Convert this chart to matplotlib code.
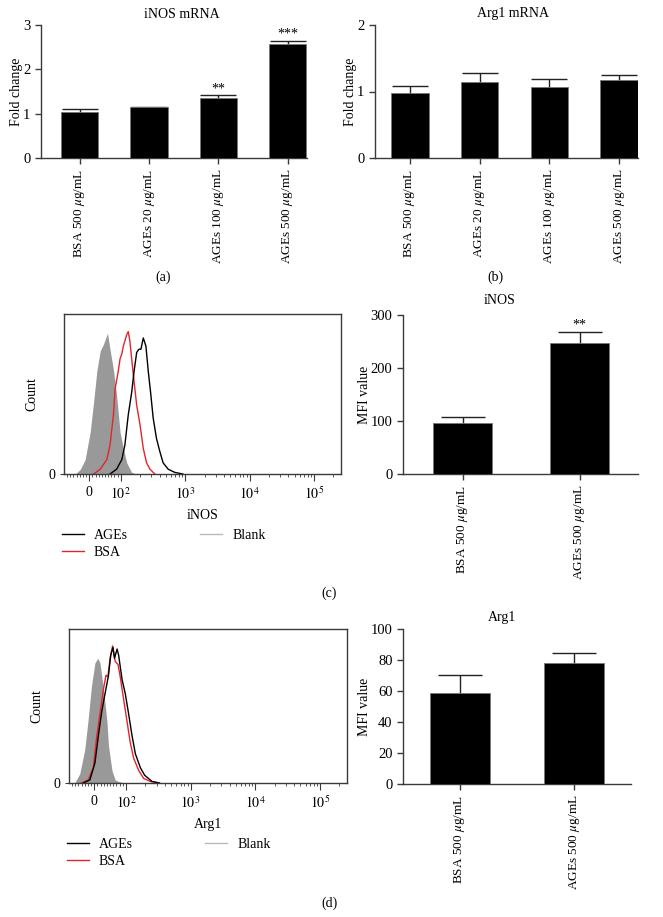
import numpy as np
import matplotlib
matplotlib.use('Agg')
import matplotlib.pyplot as plt
from matplotlib.lines import Line2D

plt.rcParams['font.family'] = ['Liberation Serif', 'DejaVu Serif']
plt.rcParams['mathtext.fontset'] = 'stix'
plt.rcParams['font.size'] = 9.5

W, H = 663, 917

# ---- data ----
mrna_groups = ['BSA 500 $\\mu$g/mL', 'AGEs 20 $\\mu$g/mL',
               'AGEs 100 $\\mu$g/mL', 'AGEs 500 $\\mu$g/mL']
inos_mrna = [1.03, 1.14, 1.35, 2.57]
inos_mrna_err = [0.07, 0.02, 0.06, 0.08]
inos_mrna_sig = ['', '', '**', '***']
arg1_mrna = [0.97, 1.15, 1.07, 1.17]
arg1_mrna_err = [0.12, 0.13, 0.12, 0.08]
arg1_mrna_sig = ['', '', '', '']

mfi_groups = ['BSA 500 $\\mu$g/mL', 'AGEs 500 $\\mu$g/mL']
inos_mfi = [96, 247]
inos_mfi_err = [12, 21]
inos_mfi_sig = ['', '**']
arg1_mfi = [58.9, 77.8]
arg1_mfi_err = [11.2, 7.0]
arg1_mfi_sig = ['', '']

# flow histograms: fluorescence intensity vs count (% of plot height)
inos_blank_x = [-44, -28, -13, 3, 14, 24, 35, 45, 58, 66, 77, 87, 98, 110, 124, 148, 170]
inos_blank_y = [0, 3, 9, 26, 45, 64, 77, 81, 88, 78, 65, 49, 26, 16, 7, 1, 0]
inos_bsa_x = [14, 35, 56, 66, 77, 82, 92, 98, 104, 110, 124, 131, 139, 148, 157, 177, 199, 224, 252, 284, 339]
inos_bsa_y = [0, 3, 9, 18, 37, 53, 64, 72, 75, 80, 87, 89, 83, 72, 62, 43, 31, 16, 7, 3, 0]
inos_ages_x = [66, 87, 104, 116, 131, 148, 161, 177, 192, 206, 224, 246, 268, 291, 319, 360, 405, 455, 545, 690, 919]
inos_ages_y = [0, 3, 9, 18, 37, 51, 64, 76, 78, 78, 85, 80, 64, 51, 35, 22, 14, 7, 3, 1, 0]

arg1_blank_x = [-62, -46, -30, -19, -9, 2, 11, 18, 29, 40, 45, 56, 66, 77, 95]
arg1_blank_y = [0, 6, 22, 42, 63, 78, 81, 78, 61, 40, 24, 8, 2, 1, 0]
arg1_bsa_x = [-41, -19, -3, 7, 18, 29, 37, 43, 50, 58, 66, 75, 82, 93, 104, 117, 132, 158, 188, 238, 319]
arg1_bsa_y = [0, 2, 10, 29, 45, 61, 70, 69, 81, 89, 79, 77, 69, 54, 40, 26, 16, 8, 3, 1, 0]
arg1_ages_x = [-35, -14, 2, 13, 24, 34, 45, 52, 59, 64, 72, 77, 88, 98, 110, 124, 140, 167, 195, 254, 331]
arg1_ages_y = [0, 2, 13, 31, 47, 58, 70, 83, 88, 81, 87, 83, 67, 58, 45, 31, 19, 10, 5, 1, 0]

hist_ticks = [0, 1e2, 1e3, 1e4, 1e5]
hist_ticklabels = ['0', '$10^2$', '$10^3$', '$10^4$', '$10^5$']

AXC = '#3a3a3a'
RED = '#e3242b'

fig = plt.figure(figsize=(W / 100, H / 100), dpi=100)


def box(l, t, r, b):
    return fig.add_axes([l / W, 1 - b / H, (r - l) / W, (b - t) / H])


def bar_panel(ax, labels, vals, errs, sig, ylim, yticks, ylabel, xlim, width, capsize):
    x = np.arange(len(vals))
    ax.bar(x, vals, width=width, color='black', edgecolor='#777777', linewidth=0.6, zorder=3)
    # error bars sit behind the bars so only the upper half shows
    ax.errorbar(x, vals, yerr=errs, fmt='none', ecolor='#222222',
                elinewidth=1, capsize=capsize, capthick=1, zorder=2)
    for xi, v, e, s in zip(x, vals, errs, sig):
        if s:
            ax.text(xi, v + e, s, ha='center', va='bottom', fontsize=10)
    for s in ['top', 'right']:
        ax.spines[s].set_visible(False)
    for s in ['left', 'bottom']:
        ax.spines[s].set_color(AXC)
        ax.spines[s].set_linewidth(1)
    ax.set_xticks(x)
    ax.set_xticklabels(labels, rotation=90)
    ax.tick_params(direction='out', length=4, color=AXC, width=1)
    ax.tick_params(axis='y', labelsize=10.5)
    ax.set_xlim(xlim)
    ax.set_ylim(ylim)
    ax.set_yticks(yticks)
    ax.set_ylabel(ylabel, labelpad=0, fontsize=10)


def hist_panel(ax, bx, by, rx, ry, kx, ky, xlabel, legend_xy):
    ax.fill_between(bx, by, color='#999999', lw=0)
    ax.plot(rx, ry, color=RED, lw=1)
    ax.plot(kx, ky, color='black', lw=1)
    ax.set_xscale('symlog', linthresh=100, linscale=0.44)
    ax.set_xlim(-80, 262144)
    ax.set_ylim(0, 100)
    ax.set_xticks(hist_ticks)
    ax.set_xticklabels(hist_ticklabels)
    minor = [v for v in range(-70, 100, 10) if v != 0]
    for d in [1e2, 1e3, 1e4, 1e5]:
        minor += [d * k for k in range(2, 10) if d * k < 262144]
    ax.set_xticks(minor, minor=True)
    ax.set_yticks([0])
    for s in ax.spines.values():
        s.set_color(AXC)
        s.set_linewidth(1)
    ax.tick_params(axis='x', which='major', direction='out', length=5, color=AXC, labelsize=10)
    ax.tick_params(axis='x', which='minor', direction='out', length=2.5, color=AXC)
    ax.tick_params(axis='y', direction='out', length=3, color=AXC, labelsize=10)
    ax.set_ylabel('Count', labelpad=7, fontsize=10)
    ax.set_xlabel(xlabel, labelpad=5, fontsize=10)
    handles = [Line2D([], [], color='black', lw=1, label='AGEs'),
               Line2D([], [], color=RED, lw=1, label='BSA'),
               Line2D([], [], color='#bbbbbb', lw=1, label='Blank')]
    ax.legend(handles=handles, ncol=2, loc='upper left', frameon=False, fontsize=10,
              bbox_to_anchor=(legend_xy[0] / W, 1 - legend_xy[1] / H),
              bbox_transform=fig.transFigure, borderpad=0, borderaxespad=0,
              handlelength=1.6, handletextpad=0.7, columnspacing=5.2, labelspacing=0.3)


# (a) iNOS mRNA
ax_a = box(41, 25, 307, 158)
bar_panel(ax_a, mrna_groups, inos_mrna, inos_mrna_err, inos_mrna_sig,
          (0, 3), [0, 1, 2, 3], 'Fold change', (-0.56, 3.28), 0.54, 13)
fig.text(182 / W, 1 - 14 / H, 'iNOS mRNA', ha='center', va='center', fontsize=10)

# (b) Arg1 mRNA
ax_b = box(375, 25, 638, 158)
bar_panel(ax_b, mrna_groups, arg1_mrna, arg1_mrna_err, arg1_mrna_sig,
          (0, 2), [0, 1, 2], 'Fold change', (-0.5, 3.27), 0.54, 13)
fig.text(513 / W, 1 - 14 / H, 'Arg1 mRNA', ha='center', va='center', fontsize=10)

fig.text(163 / W, 1 - 277 / H, '(a)', ha='center', va='center', fontsize=10)
fig.text(495 / W, 1 - 277 / H, '(b)', ha='center', va='center', fontsize=10)

# (c) iNOS flow
ax_c1 = box(64, 314, 341, 474)
hist_panel(ax_c1, inos_blank_x, inos_blank_y, inos_bsa_x, inos_bsa_y,
           inos_ages_x, inos_ages_y, 'iNOS', (62, 529))
ax_c2 = box(403, 315, 638, 474)
bar_panel(ax_c2, mfi_groups, inos_mfi, inos_mfi_err, inos_mfi_sig,
          (0, 300), [0, 100, 200, 300], 'MFI value', (-0.51, 1.5), 0.51, 16)
fig.text(500 / W, 1 - 301 / H, 'iNOS', ha='center', va='center', fontsize=10)
fig.text(329 / W, 1 - 593 / H, '(c)', ha='center', va='center', fontsize=10)

# (d) Arg1 flow
ax_d1 = box(69, 629, 347, 783)
hist_panel(ax_d1, arg1_blank_x, arg1_blank_y, arg1_bsa_x, arg1_bsa_y,
           arg1_ages_x, arg1_ages_y, 'Arg1', (67, 838))
ax_d2 = box(403, 629, 631, 784)
bar_panel(ax_d2, mfi_groups, arg1_mfi, arg1_mfi_err, arg1_mfi_sig,
          (0, 100), [0, 20, 40, 60, 80, 100], 'MFI value', (-0.5, 1.5), 0.52, 16)
fig.text(502 / W, 1 - 617 / H, 'Arg1', ha='center', va='center', fontsize=10)
fig.text(329 / W, 1 - 903 / H, '(d)', ha='center', va='center', fontsize=10)

fig.savefig('out.png', dpi=100, facecolor='white')
